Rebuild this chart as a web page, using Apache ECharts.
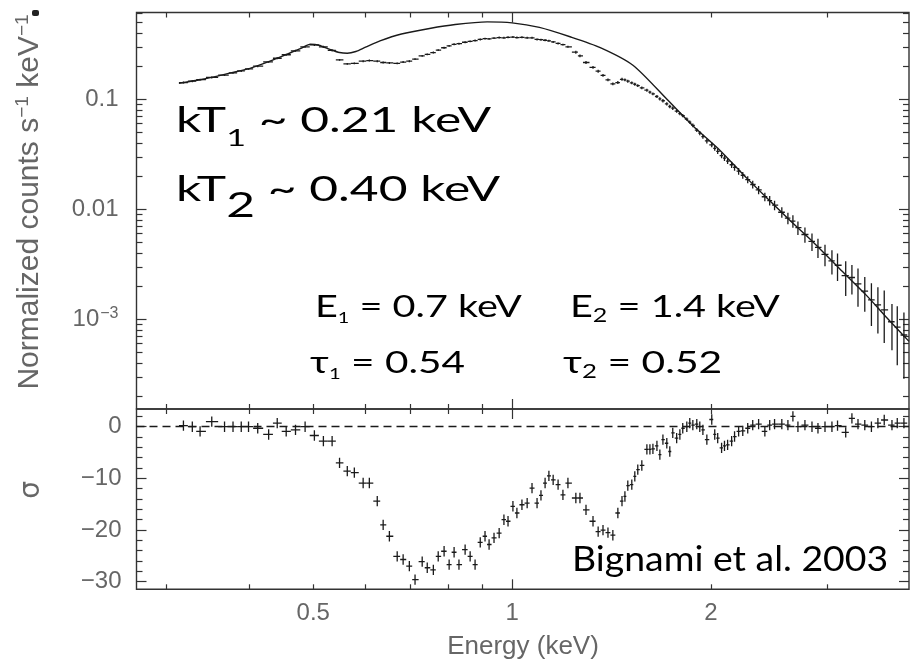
<!DOCTYPE html>
<html>
<head>
<meta charset="utf-8">
<title>Spectrum and residuals</title>
<script src="https://cdn.jsdelivr.net/npm/echarts@6/dist/echarts.min.js"></script>
<style>
  html, body { margin: 0; padding: 0; background: #fff; }
  #main { width: 916px; height: 661px; }
</style>
</head>
<body>
<div id="main"></div>
<script>
// energy of each spectral bin (keV)
var energy = [
  0.318, 0.328, 0.337, 0.351, 0.367, 0.378, 0.389, 0.399, 0.412, 0.428,
  0.441, 0.455, 0.470, 0.486, 0.502, 0.518, 0.534, 0.548, 0.563, 0.577,
  0.595, 0.608, 0.625, 0.638, 0.652, 0.670, 0.684, 0.699, 0.713, 0.731,
  0.744, 0.760, 0.773, 0.789, 0.803, 0.817, 0.831, 0.849, 0.864, 0.879,
  0.895, 0.910, 0.923, 0.939, 0.956, 0.972, 0.986, 1.003, 1.017, 1.035,
  1.054, 1.072, 1.091, 1.106, 1.122, 1.137, 1.154, 1.174, 1.194, 1.215,
  1.249, 1.267, 1.294, 1.326, 1.350, 1.373, 1.397, 1.421, 1.446, 1.467,
  1.482, 1.497, 1.518, 1.534, 1.550, 1.572, 1.600, 1.617, 1.634, 1.657,
  1.674, 1.692, 1.715, 1.733, 1.751, 1.775, 1.795, 1.813, 1.839, 1.858,
  1.878, 1.904, 1.924, 1.945, 1.972, 2.006, 2.027, 2.048, 2.076, 2.097,
  2.120, 2.150, 2.172, 2.203, 2.235, 2.274, 2.314, 2.362, 2.414, 2.455,
  2.497, 2.561, 2.616, 2.662, 2.709, 2.776, 2.845, 2.905, 2.977, 3.05,
  3.11, 3.20, 3.27, 3.34, 3.42, 3.50, 3.58, 3.66, 3.76, 3.83,
  3.92
];

// normalized counts s^-1 keV^-1
var counts = [
  0.142, 0.146, 0.151, 0.158, 0.166, 0.174, 0.181, 0.189, 0.200, 0.219,
  0.236, 0.254, 0.276, 0.300, 0.312, 0.300, 0.278, 0.228, 0.210, 0.212,
  0.222, 0.225, 0.222, 0.216, 0.214, 0.212, 0.218, 0.222, 0.232, 0.248,
  0.256, 0.266, 0.280, 0.294, 0.306, 0.316, 0.320, 0.330, 0.336, 0.342,
  0.350, 0.356, 0.354, 0.360, 0.364, 0.362, 0.366, 0.368, 0.364, 0.366,
  0.362, 0.362, 0.350, 0.348, 0.344, 0.340, 0.332, 0.322, 0.314, 0.300,
  0.268, 0.248, 0.216, 0.195, 0.180, 0.165, 0.150, 0.138, 0.142, 0.152,
  0.150, 0.146, 0.141, 0.137, 0.133, 0.127, 0.121, 0.116, 0.112, 0.106,
  0.101, 0.097, 0.091, 0.086, 0.083, 0.078, 0.074, 0.071, 0.066, 0.062,
  0.058, 0.0525, 0.0492, 0.0458, 0.0418, 0.0385, 0.0358, 0.0336, 0.0308, 0.0292,
  0.0274, 0.0254, 0.0240, 0.0222, 0.0204, 0.0186, 0.0168, 0.0150, 0.0130, 0.0120,
  0.0109, 0.0094, 0.0083, 0.0078, 0.0068, 0.0059, 0.0051, 0.0045, 0.0039, 0.0034,
  0.0031, 0.0025, 0.0024, 0.0021, 0.0018, 0.0015, 0.00135, 0.00122, 0.00095, 0.00085,
  0.00072
];

// relative 1-sigma error on counts
var countsRelErr = [
  0.02, 0.02, 0.02, 0.02, 0.02, 0.02, 0.02, 0.02, 0.02, 0.02,
  0.02, 0.02, 0.02, 0.02, 0.02, 0.02, 0.02, 0.02, 0.02, 0.02,
  0.02, 0.02, 0.02, 0.02, 0.02, 0.02, 0.02, 0.02, 0.02, 0.02,
  0.02, 0.02, 0.02, 0.02, 0.02, 0.02, 0.02, 0.02, 0.02, 0.02,
  0.02, 0.02, 0.02, 0.02, 0.02, 0.02, 0.02, 0.02, 0.02, 0.02,
  0.02, 0.02, 0.02, 0.02, 0.02, 0.02, 0.02, 0.02, 0.02, 0.02,
  0.03, 0.03, 0.03, 0.03, 0.03, 0.03, 0.03, 0.03, 0.03, 0.03,
  0.03, 0.03, 0.03, 0.03, 0.03, 0.03, 0.03, 0.03, 0.03, 0.03,
  0.035, 0.035, 0.035, 0.035, 0.035, 0.035, 0.035, 0.035, 0.035, 0.035,
  0.04, 0.04, 0.045, 0.045, 0.05, 0.05, 0.05, 0.055, 0.055, 0.06,
  0.06, 0.065, 0.065, 0.07, 0.07, 0.075, 0.08, 0.085, 0.09, 0.10,
  0.10, 0.11, 0.12, 0.13, 0.14, 0.16, 0.18, 0.20, 0.22, 0.25,
  0.28, 0.35, 0.30, 0.38, 0.35, 0.42, 0.45, 0.50, 0.45, 0.55,
  0.60
];

// residuals in sigma
var sigmaRes = [
  0.2, 0, -0.9, 1.0, 0, 0, 0, 0, -0.3, -1.5,
  0.7, -0.9, -0.6, 0, -1.7, -2.8, -2.8, -7.0, -8.6, -8.9,
  -10.9, -10.9, -14.4, -19.0, -21.2, -25.1, -25.7, -27.0, -29.6, -26.1,
  -27.3, -27.7, -25.1, -24.1, -26.7, -24.3, -26.7, -23.8, -25.1, -26.7,
  -22.4, -21.2, -22.8, -21.5, -20.6, -18.0, -18.3, -15.4, -16.7, -15.1,
  -14.8, -11.9, -14.8, -13.3, -10.9, -9.5, -10.3, -11.2, -13.2, -10.9,
  -13.8, -13.8, -16.1, -18.3, -20.3, -20.0, -20.5, -21.0, -16.7, -14.4,
  -13.5, -11.4, -11.2, -9.6, -8.3, -7.5, -4.4, -4.4, -4.3, -3.7,
  -5.4, -2.5, -3.2, -4.8, -1.2, -2.2, -1.5, -0.3, 0, 0.7,
  0.3, 0.5, 0, -0.6, -2.5, 1.4, -1.5, -2.2, -4.1, -3.7,
  -3.5, -2.8, -1.9, -0.9, -0.8, -0.3, 0.3, 0.5, -0.9, 0.3,
  0.5, 0.5, 0.3, 2.0, 0, 0.3, 0, -0.3, 0, 0,
  0.2, -1.1, 1.6, 0.5, 0.3, 0, 0.7, 1.3, 0.3, 0.7,
  0.7
];

// continuum model (no absorption lines)
var modelEnergy = [
  0.313, 0.340, 0.374, 0.400, 0.430, 0.460, 0.480, 0.495, 0.510, 0.530,
  0.548, 0.563, 0.580, 0.600, 0.631, 0.680, 0.750, 0.820, 0.917, 1.000,
  1.100, 1.224, 1.360, 1.524, 1.716, 1.878, 2.063, 2.270, 2.480, 2.660,
  2.850, 3.130, 3.440, 3.690, 3.990
];
var modelCounts = [
  0.140, 0.152, 0.173, 0.190, 0.222, 0.262, 0.292, 0.316, 0.310, 0.284,
  0.266, 0.262, 0.272, 0.298, 0.340, 0.392, 0.440, 0.478, 0.505, 0.495,
  0.450, 0.370, 0.295, 0.204, 0.100, 0.0575, 0.0345, 0.0190, 0.0113, 0.0075,
  0.0051, 0.0029, 0.00165, 0.00104, 0.00063
];

// axis ticks
var xMajorTicks = [1];
var xMinorTicks = [0.3, 0.4, 0.5, 0.6, 0.7, 0.8, 0.9, 2, 3];
var xTickLabels = [0.5, 1, 2];
var countsMajorTicks = [0.001, 0.01, 0.1];
var countsMinorTicks = [
  0.0002, 0.0003, 0.0004, 0.0005, 0.0006, 0.0007, 0.0008, 0.0009,
  0.002, 0.003, 0.004, 0.005, 0.006, 0.007, 0.008, 0.009,
  0.02, 0.03, 0.04, 0.05, 0.06, 0.07, 0.08, 0.09,
  0.2, 0.3, 0.4, 0.5, 0.6
];
var resMajorTicks = [0, -10, -20, -30];
var resMinorTicks = [2, -2, -4, -6, -8, -12, -14, -16, -18, -22, -24, -26, -28];

// bin edges, half way to the neighbours in log space
function binEdges(i) {
  var n = energy.length;
  var lo = i > 0 ? Math.sqrt(energy[i - 1] * energy[i])
                 : energy[0] * energy[0] / Math.sqrt(energy[0] * energy[1]);
  var hi = i < n - 1 ? Math.sqrt(energy[i] * energy[i + 1])
                     : energy[n - 1] * energy[n - 1] / Math.sqrt(energy[n - 2] * energy[n - 1]);
  return [lo, hi];
}

var spectrumData = energy.map(function (e, i) {
  var b = binEdges(i);
  return [e, counts[i], counts[i] * (1 - countsRelErr[i]), counts[i] * (1 + countsRelErr[i]), b[0], b[1]];
});
var residualData = energy.map(function (e, i) {
  var b = binEdges(i);
  return [e, sigmaRes[i], sigmaRes[i] - 1, sigmaRes[i] + 1, b[0], b[1]];
});
var modelData = modelEnergy.map(function (e, i) {
  return [e, modelCounts[i]];
});

var ink = '#1a1a1a';
var labelGrey = '#666';
var tickStyle = { color: '#333', width: 1.2 };
var labelFont = 'Liberation Sans, Arial, sans-serif';

function renderCross(params, api) {
  var c = api.coord([api.value(0), api.value(1)]);
  var lo = api.coord([api.value(0), api.value(2)]);
  var hi = api.coord([api.value(0), api.value(3)]);
  var l = api.coord([api.value(4), api.value(1)]);
  var r = api.coord([api.value(5), api.value(1)]);
  var st = { stroke: ink, lineWidth: 1.3 };
  return {
    type: 'group',
    children: [
      { type: 'line', shape: { x1: l[0], y1: c[1], x2: r[0], y2: c[1] }, style: st },
      { type: 'line', shape: { x1: c[0], y1: lo[1], x2: c[0], y2: hi[1] }, style: st }
    ]
  };
}

function energyAxis(grid, pos, ticks, len, labels) {
  return {
    type: 'log', gridIndex: grid, position: pos, min: 0.27, max: 3.99,
    axisLine: { show: false, onZero: false },
    splitLine: { show: false },
    axisTick: { show: true, inside: true, length: len, customValues: ticks, lineStyle: tickStyle },
    axisLabel: labels ? {
      show: true, customValues: labels, margin: 12,
      color: labelGrey, fontSize: 24, fontFamily: labelFont,
      formatter: function (v) { return String(+(+v).toPrecision(3)); }
    } : { show: false }
  };
}

function countsAxis(pos, ticks, len, labels) {
  return {
    type: 'log', gridIndex: 0, position: pos, min: 1.53e-4, max: 0.615,
    axisLine: { show: false, onZero: false },
    splitLine: { show: false },
    axisTick: { show: true, inside: true, length: len, customValues: ticks, lineStyle: tickStyle },
    axisLabel: labels ? {
      show: true, customValues: labels, margin: 18,
      color: labelGrey, fontSize: 24, fontFamily: labelFont,
      formatter: function (v) {
        var p = Math.round(Math.log10(v));
        if (p === -3) return '{b|10}{sup|\u22123}';
        return p === -2 ? '0.01' : '0.1';
      },
      rich: {
        b: { color: labelGrey, fontSize: 24, fontFamily: labelFont },
        sup: { color: labelGrey, fontSize: 16, fontFamily: labelFont, padding: [0, 0, 12, 1] }
      }
    } : { show: false }
  };
}

function resAxis(pos, ticks, len, labels) {
  return {
    type: 'value', gridIndex: 1, position: pos, min: -31.47, max: 3.43,
    axisLine: { show: false, onZero: false },
    splitLine: { show: false },
    axisTick: { show: true, inside: true, length: len, customValues: ticks, lineStyle: tickStyle },
    axisLabel: labels ? {
      show: true, customValues: labels, margin: 15,
      color: labelGrey, fontSize: 24, fontFamily: labelFont,
      formatter: function (v) { return v === 0 ? '0' : '\u2212' + Math.abs(v); }
    } : { show: false }
  };
}

// annotation text in the plot, subscripts dropped below the baseline
function note(x, y, sx, parts, size, subSize, subDrop) {
  return {
    type: 'text', x: x, y: y, scaleX: sx,
    style: {
      text: parts, align: 'left', verticalAlign: 'middle',
      rich: {
        m: { fill: '#000', fontSize: size, fontFamily: 'Lato' },
        s: { fill: '#000', fontSize: subSize, fontFamily: 'Lato', padding: [subDrop, 0, 0, 0] }
      }
    }
  };
}

var chart = echarts.init(document.getElementById('main'));

var option = {
  backgroundColor: '#fff',
  animation: false,
  grid: [
    { left: 136.5, top: 12.5, width: 772.5, height: 396.5, show: true, borderColor: '#333', borderWidth: 1.4, backgroundColor: 'transparent' },
    { left: 136.5, top: 409, width: 772.5, height: 180.3, show: true, borderColor: '#333', borderWidth: 1.4, backgroundColor: 'transparent' }
  ],
  xAxis: [
    energyAxis(0, 'bottom', xMajorTicks, 10),
    energyAxis(0, 'bottom', xMinorTicks, 5),
    energyAxis(0, 'top', xMajorTicks, 10),
    energyAxis(0, 'top', xMinorTicks, 5),
    energyAxis(1, 'bottom', xMajorTicks, 10, xTickLabels),
    energyAxis(1, 'bottom', xMinorTicks, 5),
    energyAxis(1, 'top', xMajorTicks, 10),
    energyAxis(1, 'top', xMinorTicks, 5)
  ],
  yAxis: [
    countsAxis('left', countsMajorTicks, 10, countsMajorTicks),
    countsAxis('left', countsMinorTicks, 6),
    countsAxis('right', countsMajorTicks, 10),
    countsAxis('right', countsMinorTicks, 6),
    resAxis('left', resMajorTicks, 10, resMajorTicks),
    resAxis('left', resMinorTicks, 6),
    resAxis('right', resMajorTicks, 10),
    resAxis('right', resMinorTicks, 6)
  ],
  series: [
    {
      name: 'model', type: 'line', xAxisIndex: 0, yAxisIndex: 0,
      data: modelData, smooth: 0.25, showSymbol: false, silent: true,
      lineStyle: { color: ink, width: 1.4 }
    },
    {
      name: 'spectrum', type: 'custom', xAxisIndex: 0, yAxisIndex: 0,
      data: spectrumData, renderItem: renderCross, clip: true, silent: true,
      encode: { x: [0, 4, 5], y: [1, 2, 3] }
    },
    {
      name: 'residuals', type: 'custom', xAxisIndex: 4, yAxisIndex: 4,
      data: residualData, renderItem: renderCross, clip: true, silent: true,
      encode: { x: [0, 4, 5], y: [1, 2, 3] },
      markLine: {
        silent: true, symbol: 'none', label: { show: false },
        lineStyle: { color: ink, type: [8, 5], width: 1.4 },
        data: [{ yAxis: 0 }]
      }
    }
  ],
  graphic: [
    {
      type: 'rect', left: 32, top: 10, shape: { width: 7, height: 6, r: 2 },
      style: { fill: '#222' }
    },
    {
      type: 'text', x: 30, y: 202, rotation: Math.PI / 2,
      style: {
        text: '{n|Normalized counts s}{s|\u22121}{n| keV}{s|\u22121}',
        align: 'center', verticalAlign: 'middle',
        rich: {
          n: { fill: labelGrey, fontSize: 30, fontFamily: labelFont },
          s: { fill: labelGrey, fontSize: 19, fontFamily: labelFont, padding: [0, 0, 15, 0] }
        }
      }
    },
    {
      type: 'text', x: 32, y: 490, rotation: Math.PI / 2,
      style: { text: '\u03c3', fill: labelGrey, fontSize: 28, fontFamily: 'DejaVu Sans', align: 'center', verticalAlign: 'middle' }
    },
    {
      type: 'text', x: 523, y: 647,
      style: { text: 'Energy (keV)', fill: labelGrey, fontSize: 26, fontFamily: labelFont, align: 'center', verticalAlign: 'middle' }
    },
    note(176, 121, 1.42, '{m|kT}{s|1}{m| ~ 0.21 keV}', 35, 24, 34),
    note(176, 190, 1.42, '{m|kT}{s|2}{m| ~ 0.40 keV}', 35, 35, 32),
    note(315, 307, 1.32, '{m|E}{s|1}{m| = 0.7 keV}', 30, 15, 22),
    note(570, 307, 1.32, '{m|E}{s|2}{m| = 1.4 keV}', 30, 19, 18),
    note(310, 363, 1.35, '{m|\u03c4}{s|1}{m| = 0.54}', 30, 15, 22),
    note(563, 363, 1.36, '{m|\u03c4}{s|2}{m| = 0.52}', 30, 19, 18),
    note(572, 560, 1.1, '{m|Bignami et al. 2003}', 34, 20, 0)
  ]
};

chart.setOption(option);
</script>
</body>
</html>
